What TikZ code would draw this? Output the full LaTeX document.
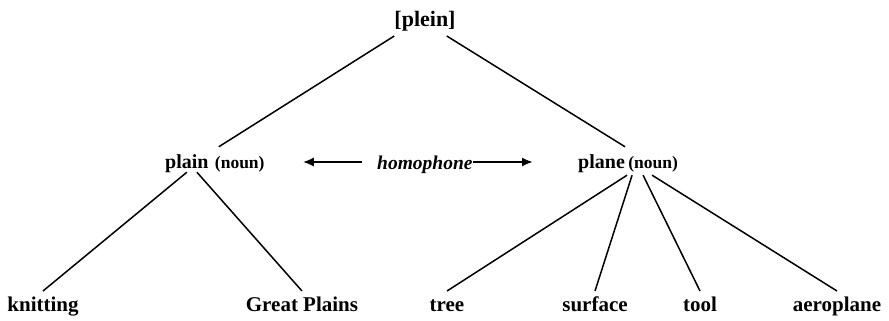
\documentclass[tikz,border=0pt]{standalone}
\usepackage{fontspec}
\setmainfont{Liberation Serif}
\usetikzlibrary{positioning, arrows.meta}

\begin{document}
\begin{tikzpicture}[x=1pt, y=-1pt,
  word/.style={inner sep=0pt, font=\fontsize{20}{24}\selectfont\bfseries, text height=14pt, text depth=4pt},
  wordclass/.style={inner sep=0pt, font=\fontsize{17.5}{21}\selectfont\bfseries, text height=14pt, text depth=4pt},
  leaf/.style={word, font=\fontsize{21}{25}\selectfont\bfseries, outer ysep=6pt},
  branch/.style={line width=1.5pt},
  link/.style={line width=2pt, -{Latex[length=11pt, width=9pt]}}]
\useasboundingbox (0,0) rectangle (889,321);

% top: the sound
\node[word, font=\fontsize{22}{26}\selectfont\bfseries, anchor=base, outer ysep=5pt] (plein) at (425,27) {[plein]};

% middle row: the two spellings
\node[word, anchor=base west] (plain) at (165,168) {plain};
\node[wordclass, base right=6pt of plain] (plainnoun) {(noun)};
\node[word, anchor=base west] (plane) at (578,168) {plane};
\node[wordclass, base right=3pt of plane] (planenoun) {(noun)};
\node[inner sep=0pt, font=\fontsize{19.5}{23}\selectfont\bfseries\itshape, text height=14pt, text depth=0pt, anchor=base west] (homo) at (377,169) {homophone};

% bottom row: meanings
\foreach \name/\txt/\x in {knit/knitting/43, gp/Great Plains/302, tree/tree/447, surf/surface/595, tool/tool/700, aero/aeroplane/837}
  \node[leaf, anchor=base] (\name) at (\x,311) {\txt};

% branches
\draw[branch] (plein.south west) -- ([shift={(10pt,7pt)}]plain.north east);
\draw[branch] ([xshift=-9pt]plein.south east) -- ([yshift=7pt]plane.north east);
\draw[branch] (plain.south) -- (knit.north);
\draw[branch] ([xshift=10pt]plain.south) -- (gp.north);
\foreach \leaf/\dx in {tree/-1, surf/4, tool/15, aero/24}
  \draw[branch] ([shift={(\dx pt,-3pt)}]planenoun.south west) -- (\leaf.north);

% homophone arrows
\draw[link, shorten <=15pt, shorten >=38pt] (homo.west) -- (homo.west -| plainnoun.east);
\draw[link, shorten >=45pt] (homo.east) -- (homo.east -| plane.west);
\end{tikzpicture}
\end{document}
